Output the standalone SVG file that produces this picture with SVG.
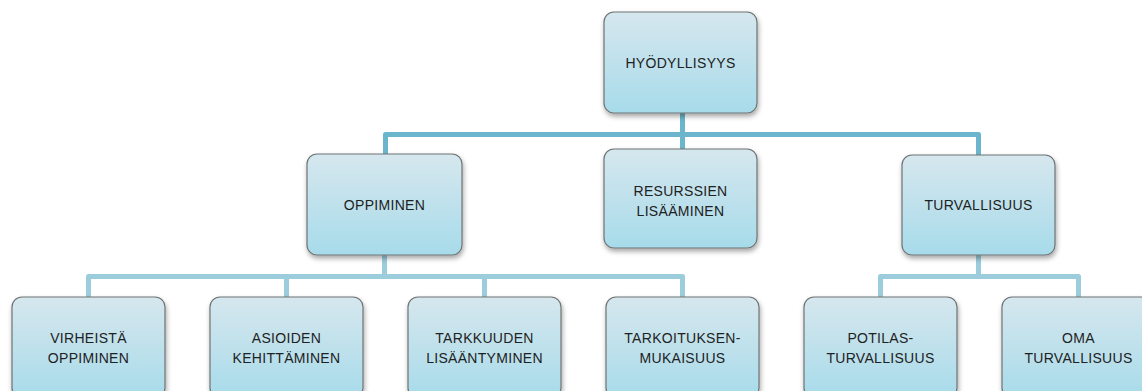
<svg xmlns="http://www.w3.org/2000/svg" width="1142" height="391" viewBox="0 0 1142 391">
  <defs>
    <linearGradient id="boxGrad" x1="0" y1="0" x2="0" y2="1">
      <stop offset="0" stop-color="#d6e7ee"/>
      <stop offset="1" stop-color="#a7dbea"/>
    </linearGradient>
    <filter id="shadow" x="-10%" y="-10%" width="125%" height="130%">
      <feDropShadow dx="1" dy="3" stdDeviation="2.5" flood-color="#000" flood-opacity="0.35"/>
    </filter>
    <filter id="glow" x="-10%" y="-30%" width="120%" height="160%">
      <feGaussianBlur in="SourceAlpha" stdDeviation="1.2" result="b"/>
      <feFlood flood-color="#ffffff" flood-opacity="0.9"/>
      <feComposite in2="b" operator="in" result="g"/>
      <feMerge><feMergeNode in="g"/><feMergeNode in="SourceGraphic"/></feMerge>
    </filter>
  </defs>
  <style>
    .box { fill: url(#boxGrad); stroke: #6e7474; stroke-width: 1.2; filter: url(#shadow); }
    .lbl { font-family: "Liberation Sans", Arial, sans-serif; font-size: 14px; fill: #1e2222; text-anchor: middle; letter-spacing: 0.3px; }
    .c1 { fill: none; stroke: #6bb6cc; stroke-width: 5; stroke-linejoin: round; }
    .c2 { fill: none; stroke: #9ccddc; stroke-width: 5; stroke-linejoin: round; }
  </style>
  <rect width="1142" height="391" fill="#ffffff"/>

  <g id="connectors">
    <path class="c1" d="M682.5 113 V150"/>
    <path class="c1" d="M385.5 154 V134.5 H978.5 V155"/>
    <path class="c2" d="M384.5 255 V276.5"/>
    <path class="c2" d="M88.5 297 V276.5 H682.5 V297"/>
    <path class="c2" d="M286.5 276.5 V297"/>
    <path class="c2" d="M484.5 276.5 V297"/>
    <path class="c2" d="M978.5 255 V276.5"/>
    <path class="c2" d="M880.5 297 V276.5 H1078.5 V297"/>
  </g>

  <g id="n-hyodyllisyys">
    <rect class="box" x="604" y="12" width="153" height="101" rx="10"/>
    <text class="lbl" x="680.5" y="68">HYÖDYLLISYYS</text>
  </g>

  <g id="n-oppiminen">
    <rect class="box" x="307" y="154" width="155" height="101" rx="10"/>
    <text class="lbl" x="384.5" y="210">OPPIMINEN</text>
  </g>

  <g id="n-resurssien">
    <rect class="box" x="604" y="149" width="153" height="99" rx="10"/>
    <text class="lbl" x="680.5" y="196">RESURSSIEN</text>
    <text class="lbl" x="680.5" y="216">LISÄÄMINEN</text>
  </g>

  <g id="n-turvallisuus">
    <rect class="box" x="902" y="155" width="153" height="100" rx="10"/>
    <text class="lbl" x="978.5" y="210">TURVALLISUUS</text>
  </g>

  <g id="n-virheista">
    <rect class="box" x="12" y="297" width="153" height="101" rx="10"/>
    <text class="lbl" x="88.5" y="343">VIRHEISTÄ</text>
    <text class="lbl" x="88.5" y="363">OPPIMINEN</text>
  </g>

  <g id="n-asioiden">
    <rect class="box" x="210" y="297" width="153" height="101" rx="10"/>
    <text class="lbl" x="286.5" y="343">ASIOIDEN</text>
    <text class="lbl" x="286.5" y="363">KEHITTÄMINEN</text>
  </g>

  <g id="n-tarkkuuden">
    <rect class="box" x="408" y="297" width="153" height="101" rx="10"/>
    <text class="lbl" x="484.5" y="343">TARKKUUDEN</text>
    <text class="lbl" x="484.5" y="363">LISÄÄNTYMINEN</text>
  </g>

  <g id="n-tarkoituksen">
    <rect class="box" x="606" y="297" width="153" height="101" rx="10"/>
    <text class="lbl" x="682.5" y="343">TARKOITUKSEN-</text>
    <text class="lbl" x="682.5" y="363">MUKAISUUS</text>
  </g>

  <g id="n-potilas">
    <rect class="box" x="804" y="297" width="153" height="101" rx="10"/>
    <text class="lbl" x="880.5" y="343">POTILAS-</text>
    <text class="lbl" x="880.5" y="363">TURVALLISUUS</text>
  </g>

  <g id="n-oma">
    <rect class="box" x="1002" y="297" width="153" height="101" rx="10"/>
    <text class="lbl" x="1078.5" y="343">OMA</text>
    <text class="lbl" x="1078.5" y="363">TURVALLISUUS</text>
  </g>
</svg>
